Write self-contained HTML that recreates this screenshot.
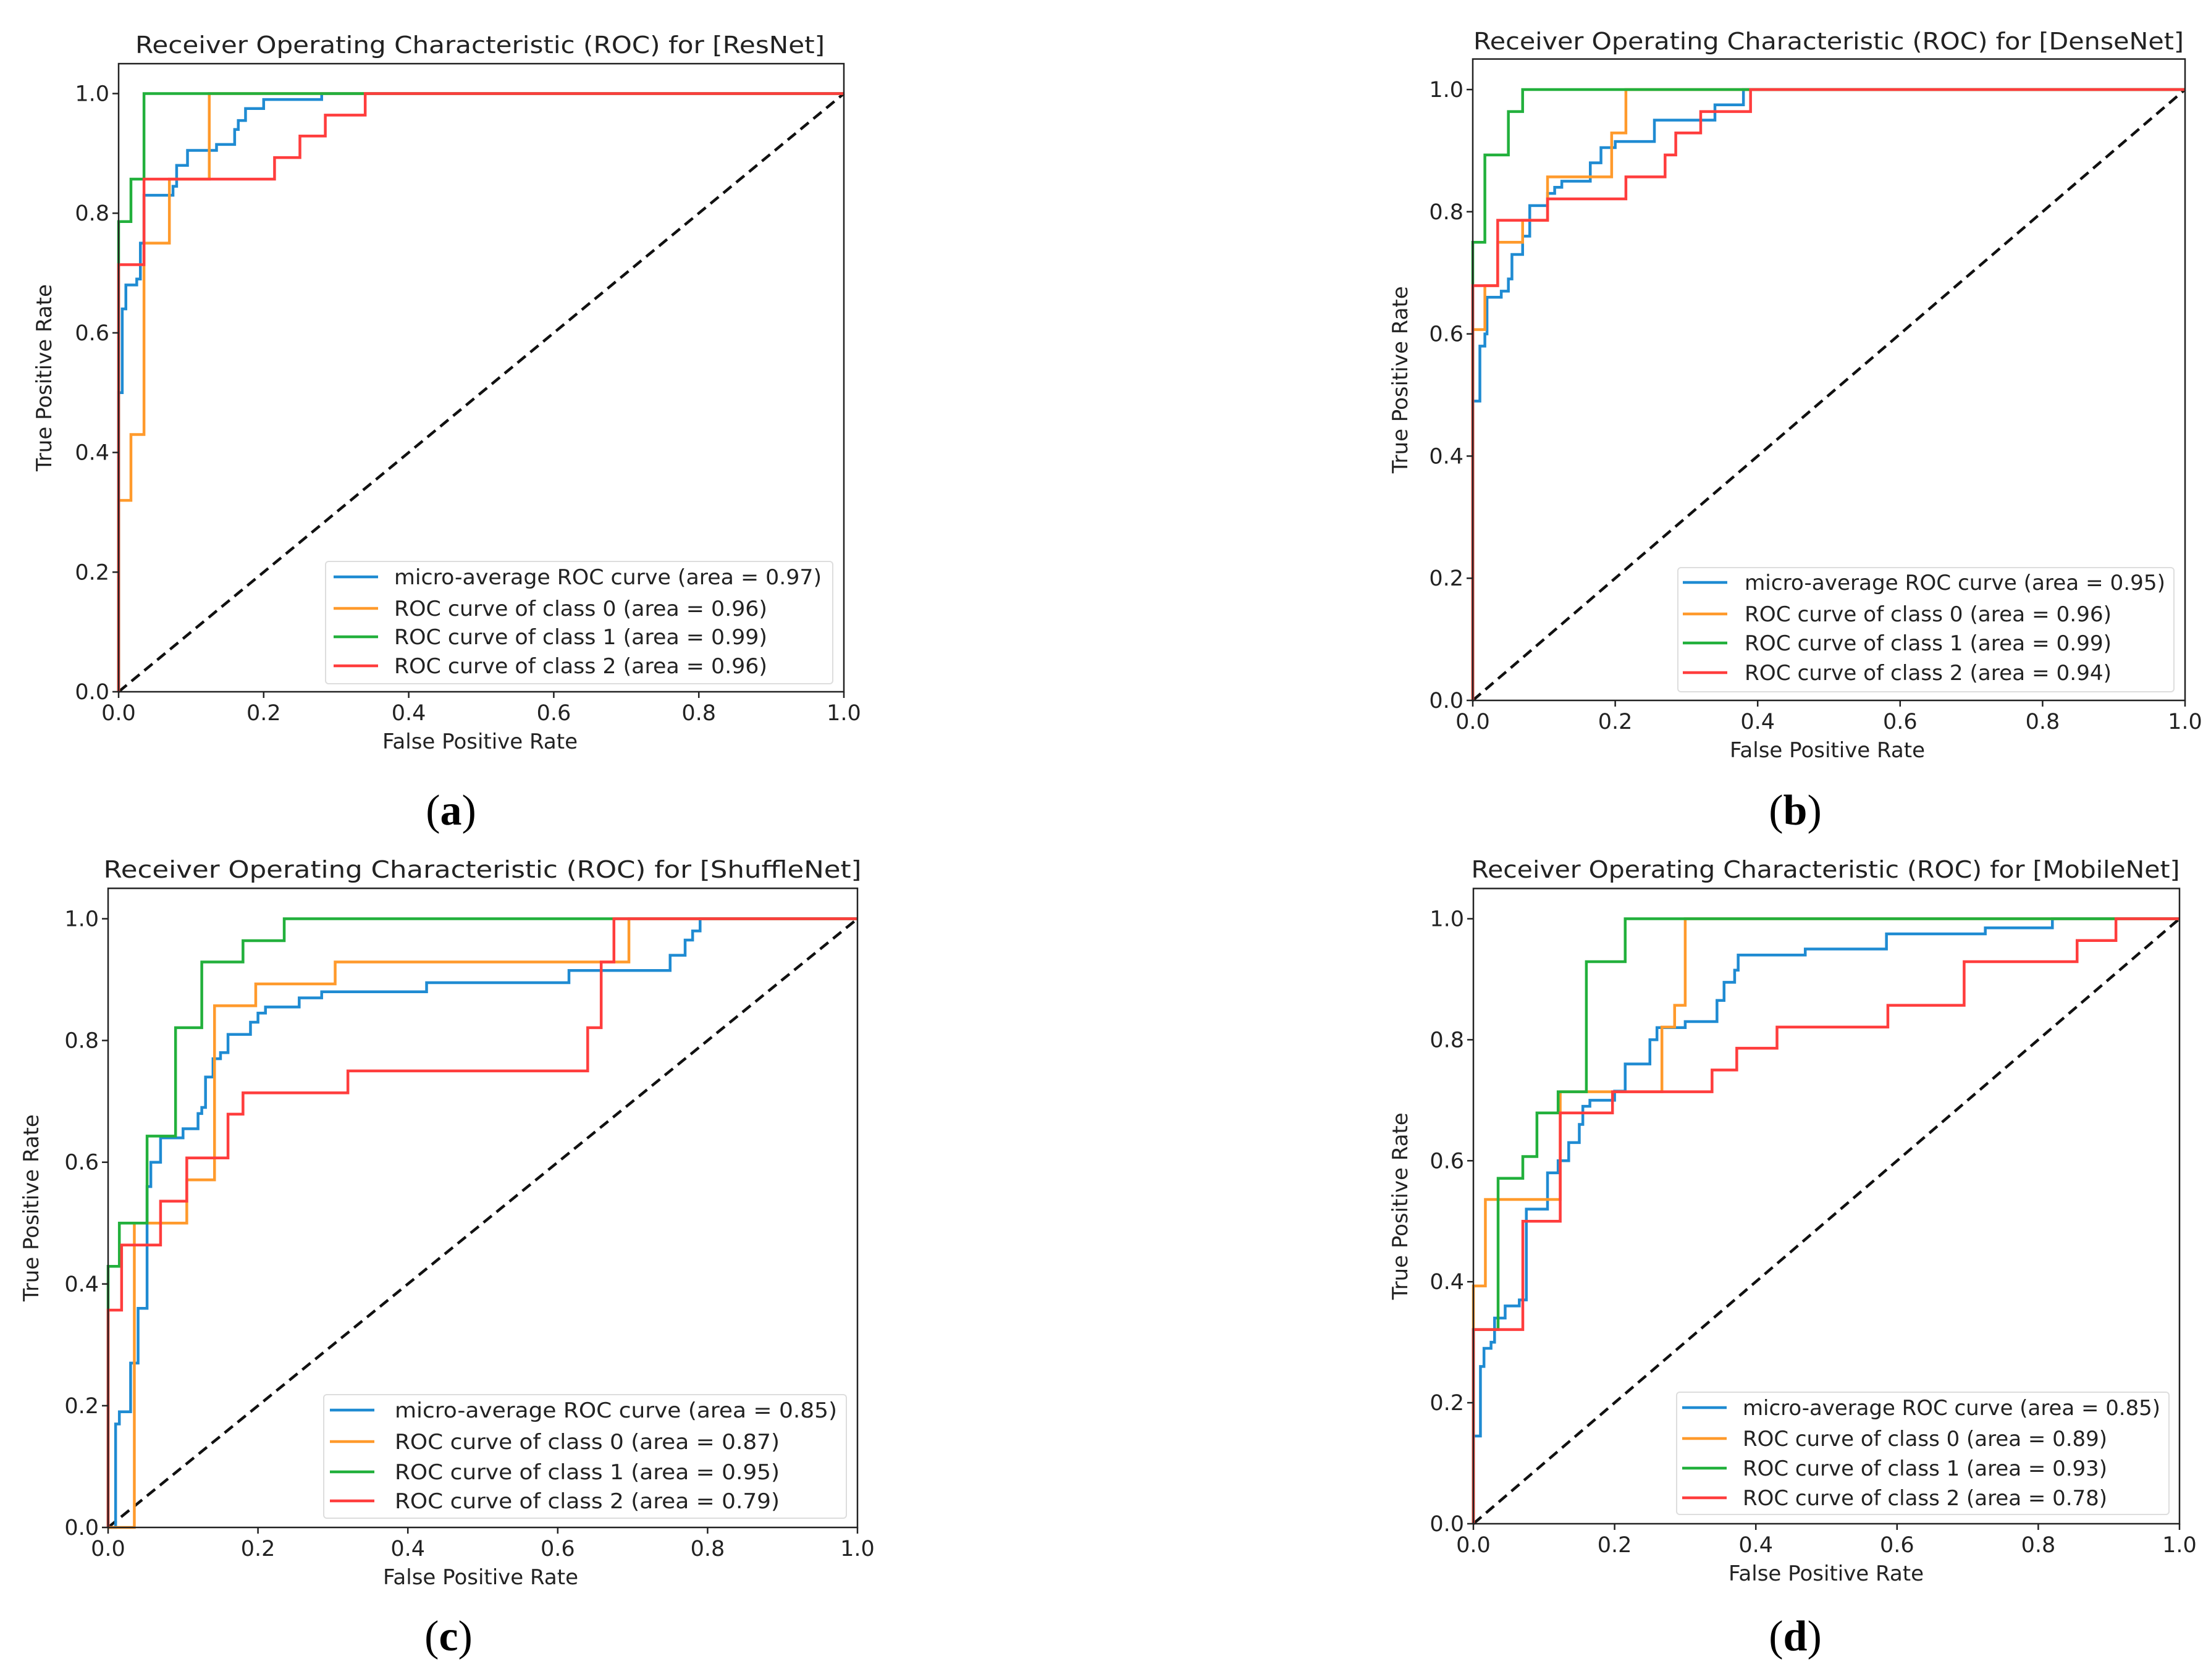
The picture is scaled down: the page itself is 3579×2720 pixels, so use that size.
<!DOCTYPE html>
<html><head><meta charset="utf-8">
<style>
html,body{margin:0;padding:0;background:#fff;}
svg{display:block;}
text{font-family:"DejaVu Sans","Liberation Sans",sans-serif;fill:#222;}
.cap{font-family:"Liberation Serif",serif;fill:#000;}
</style></head>
<body>
<svg id="fig" width="3579" height="2720" viewBox="0 0 3579 2720" xmlns="http://www.w3.org/2000/svg"></svg>
<script>
// ---- data (ROC step vertices: fpr -> tpr) ----
const aMicroX=[0,0.005,0.01,0.025,0.03,0.035,0.075,0.08,0.095,0.135,0.16,0.165,0.175,0.2,0.28,1];
const aMicroY=[0.5,0.64,0.68,0.69,0.75,0.83,0.845,0.88,0.905,0.915,0.94,0.955,0.975,0.99,1,1];
const aC0X=[0,0.017,0.035,0.07,0.125,1];
const aC0Y=[0.32,0.43,0.75,0.857,1,1];
const aC1X=[0,0.017,0.035,1];
const aC1Y=[0.786,0.857,1,1];
const aC2X=[0,0.035,0.215,0.25,0.285,0.34,1];
const aC2Y=[0.714,0.857,0.893,0.929,0.964,1,1];

const bMicroX=[0,0.01,0.017,0.02,0.04,0.05,0.055,0.07,0.08,0.105,0.115,0.125,0.165,0.18,0.2,0.255,0.34,0.38,1];
const bMicroY=[0.49,0.58,0.6,0.66,0.67,0.69,0.73,0.76,0.81,0.83,0.84,0.85,0.88,0.905,0.915,0.95,0.975,1,1];
const bC0X=[0,0.017,0.035,0.07,0.105,0.195,0.215,1];
const bC0Y=[0.607,0.679,0.75,0.786,0.857,0.929,1,1];
const bC1X=[0,0.017,0.05,0.07,1];
const bC1Y=[0.75,0.893,0.964,1,1];
const bC2X=[0,0.035,0.105,0.215,0.27,0.285,0.32,0.39,1];
const bC2Y=[0.679,0.786,0.821,0.857,0.893,0.929,0.964,1,1];

const cMicroX=[0.01,0.015,0.03,0.04,0.052,0.057,0.07,0.1,0.12,0.125,0.13,0.14,0.15,0.16,0.19,0.2,0.21,0.255,0.285,0.425,0.615,0.75,0.77,0.78,0.79,1];
const cMicroY=[0.17,0.19,0.27,0.36,0.56,0.6,0.64,0.655,0.68,0.69,0.74,0.77,0.78,0.81,0.83,0.845,0.855,0.87,0.88,0.895,0.915,0.94,0.965,0.98,1,1];
const cC0X=[0.035,0.105,0.142,0.197,0.303,0.695,1];
const cC0Y=[0.5,0.571,0.857,0.893,0.929,1,1];
const cC1X=[0,0.015,0.052,0.09,0.125,0.18,0.235,1];
const cC1Y=[0.429,0.5,0.643,0.821,0.929,0.964,1,1];
const cC2X=[0,0.018,0.07,0.105,0.16,0.18,0.32,0.64,0.658,0.675,1];
const cC2Y=[0.357,0.464,0.536,0.607,0.679,0.714,0.75,0.821,0.929,1,1];

const dMicroX=[0,0.01,0.015,0.025,0.03,0.045,0.065,0.075,0.105,0.12,0.135,0.15,0.155,0.165,0.2,0.215,0.25,0.26,0.3,0.345,0.355,0.37,0.375,0.47,0.585,0.725,0.82,1];
const dMicroY=[0.145,0.26,0.29,0.3,0.34,0.36,0.37,0.52,0.58,0.6,0.63,0.66,0.69,0.7,0.715,0.76,0.8,0.82,0.83,0.865,0.895,0.915,0.94,0.95,0.975,0.985,1,1];
const dC0X=[0,0.017,0.123,0.267,0.285,0.3,1];
const dC0Y=[0.393,0.536,0.714,0.821,0.857,1,1];
const dC1X=[0,0.035,0.07,0.09,0.12,0.16,0.215,1];
const dC1Y=[0.321,0.571,0.607,0.679,0.714,0.929,1,1];
const dC2X=[0,0.07,0.123,0.197,0.338,0.373,0.43,0.587,0.695,0.855,0.91,1];
const dC2Y=[0.321,0.5,0.679,0.714,0.75,0.786,0.821,0.857,0.929,0.964,1,1];

const tickValues=[0,0.2,0.4,0.6,0.8,1.0];
const tickLabels=["0.0","0.2","0.4","0.6","0.8","1.0"];
const modelNames=["ResNet","DenseNet","ShuffleNet","MobileNet"];
const aucMicro=["0.97","0.95","0.85","0.85"];
const aucC0=["0.96","0.96","0.87","0.89"];
const aucC1=["0.99","0.99","0.95","0.93"];
const aucC2=["0.96","0.94","0.79","0.78"];

const colors=["#1f8bd2","#ff9a2c","#22b03c","#ff3d3d"];
const NS="http://www.w3.org/2000/svg";
const fig=document.getElementById('fig');
function mk(tag,attrs,parent){const e=document.createElementNS(NS,tag);for(const k in attrs)e.setAttribute(k,attrs[k]);(parent||fig).appendChild(e);return e;}

// layout (pixels)
const panels=[
 {id:'a',x0:192,x1:1366,y0:1120,y1:151.5,tw:1116,tx:777,ty:86,ylx:71,xlx:777,lg:[527,909,821,198],rows:[934,985,1031,1078],hx:540,txx:638,mw:692,ow:604,cap:[730,1335]},
 {id:'b',x0:2384,x1:3537,y0:1134,y1:145,tw:1150,tx:2960,ty:80,ylx:2266,xlx:2958,lg:[2716,919,803,201],rows:[943,994,1041,1089],hx:2724,txx:2824,mw:681,ow:594,cap:[2906,1335]},
 {id:'c',x0:175,x1:1388,y0:2473,y1:1487.5,tw:1227,tx:781,ty:1421,ylx:50,xlx:778,lg:[524,2258,846,200],rows:[2283,2334,2383,2430],hx:534,txx:639,mw:716,ow:623,cap:[726,2672]},
 {id:'d',x0:2385,x1:3528,y0:2467,y1:1487.5,tw:1147,tx:2955,ty:1421,ylx:2266,xlx:2956,lg:[2714,2254,797,198],rows:[2279,2329,2377,2425],hx:2723,txx:2821,mw:676,ow:590,cap:[2906,2672]}
];
const series=[
 [[aMicroX,aMicroY],[aC0X,aC0Y],[aC1X,aC1Y],[aC2X,aC2Y]],
 [[bMicroX,bMicroY],[bC0X,bC0Y],[bC1X,bC1Y],[bC2X,bC2Y]],
 [[cMicroX,cMicroY],[cC0X,cC0Y],[cC1X,cC1Y],[cC2X,cC2Y]],
 [[dMicroX,dMicroY],[dC0X,dC0Y],[dC1X,dC1Y],[dC2X,dC2Y]]
];
const seriesNames=['micro-average','class-0','class-1','class-2'];

panels.forEach((p,pi)=>{
  const g=mk('g',{});
  
  
  const sx=v=>p.x0+v*(p.x1-p.x0);
  const sy=v=>p.y0-v*(p.y0-p.y1);
  const top=sy(1.05);
  // title
  const t=mk('text',{x:p.tx,y:p.ty,'text-anchor':'middle','font-size':38,textLength:p.tw,lengthAdjust:'spacingAndGlyphs'},g);
  t.textContent='Receiver Operating Characteristic (ROC) for ['+modelNames[pi]+']';
  
  
  // diagonal
  const dg=mk('line',{x1:sx(0),y1:sy(0),x2:sx(1),y2:sy(1),stroke:'#111','stroke-width':4.5,'stroke-dasharray':'17 10'},g);
  
  
  // curves
  series[pi].forEach((s,si)=>{
    const X=s[0],Y=s[1];
    let d='M'+sx(0)+' '+sy(0);
    for(let i=0;i<X.length;i++){d+=' H'+sx(X[i])+' V'+sy(Y[i]);}
    const path=mk('path',{d:d,fill:'none',stroke:colors[si],'stroke-width':4.5,'stroke-linejoin':'miter'},g);
    
    
  });
  // frame
  const fr=mk('rect',{x:p.x0,y:top,width:p.x1-p.x0,height:p.y0-top,fill:'none',stroke:'#222','stroke-width':2.5},g);
  
  
  // ticks
  tickValues.forEach((v,i)=>{
    mk('line',{x1:sx(v),y1:p.y0,x2:sx(v),y2:p.y0+10,stroke:'#222','stroke-width':2.5},g);
    const xt=mk('text',{x:sx(v),y:p.y0+46,'text-anchor':'middle','font-size':35},g);
    xt.textContent=tickLabels[i];
    
    
    mk('line',{x1:p.x0-10,y1:sy(v),x2:p.x0,y2:sy(v),stroke:'#222','stroke-width':2.5},g);
    const yt=mk('text',{x:p.x0-15,y:sy(v)+12,'text-anchor':'end','font-size':35},g);
    yt.textContent=tickLabels[i];
    
    
  });
  const xl=mk('text',{x:p.xlx,y:p.y0+92,'text-anchor':'middle','font-size':34},g);
  xl.textContent='False Positive Rate';
  
  
  const yc=(top+p.y0)/2;
  const yl=mk('text',{x:p.ylx,y:yc,'text-anchor':'middle','font-size':34,transform:'rotate(-90 '+p.ylx+' '+yc+')',dy:12},g);
  yl.textContent='True Positive Rate';
  
  
  // legend
  const lg=mk('rect',{x:p.lg[0],y:p.lg[1],width:p.lg[2],height:p.lg[3],rx:5,fill:'#fff','fill-opacity':0.85,stroke:'#ddd','stroke-width':2},g);
  
  
  const labels=['micro-average ROC curve (area = '+aucMicro[pi]+')','ROC curve of class 0 (area = '+aucC0[pi]+')','ROC curve of class 1 (area = '+aucC1[pi]+')','ROC curve of class 2 (area = '+aucC2[pi]+')'];
  labels.forEach((lab,li)=>{
    const ry=p.rows[li];
    const h=mk('line',{x1:p.hx,y1:ry,x2:p.hx+72,y2:ry,stroke:colors[li],'stroke-width':4.5},g);
    
    
    const lt=mk('text',{x:p.txx,y:ry+12,'font-size':34,textLength:(li===0?p.mw:p.ow),lengthAdjust:'spacingAndGlyphs'},g);
    lt.textContent=lab;
    
    
  });
  // caption
  const cp=mk('text',{x:p.cap[0],y:p.cap[1],'text-anchor':'middle','font-size':70,class:'cap'},g);
  cp.innerHTML='(<tspan font-weight="bold">'+p.id+'</tspan>)';
  
  
});
</script>
</body></html>
